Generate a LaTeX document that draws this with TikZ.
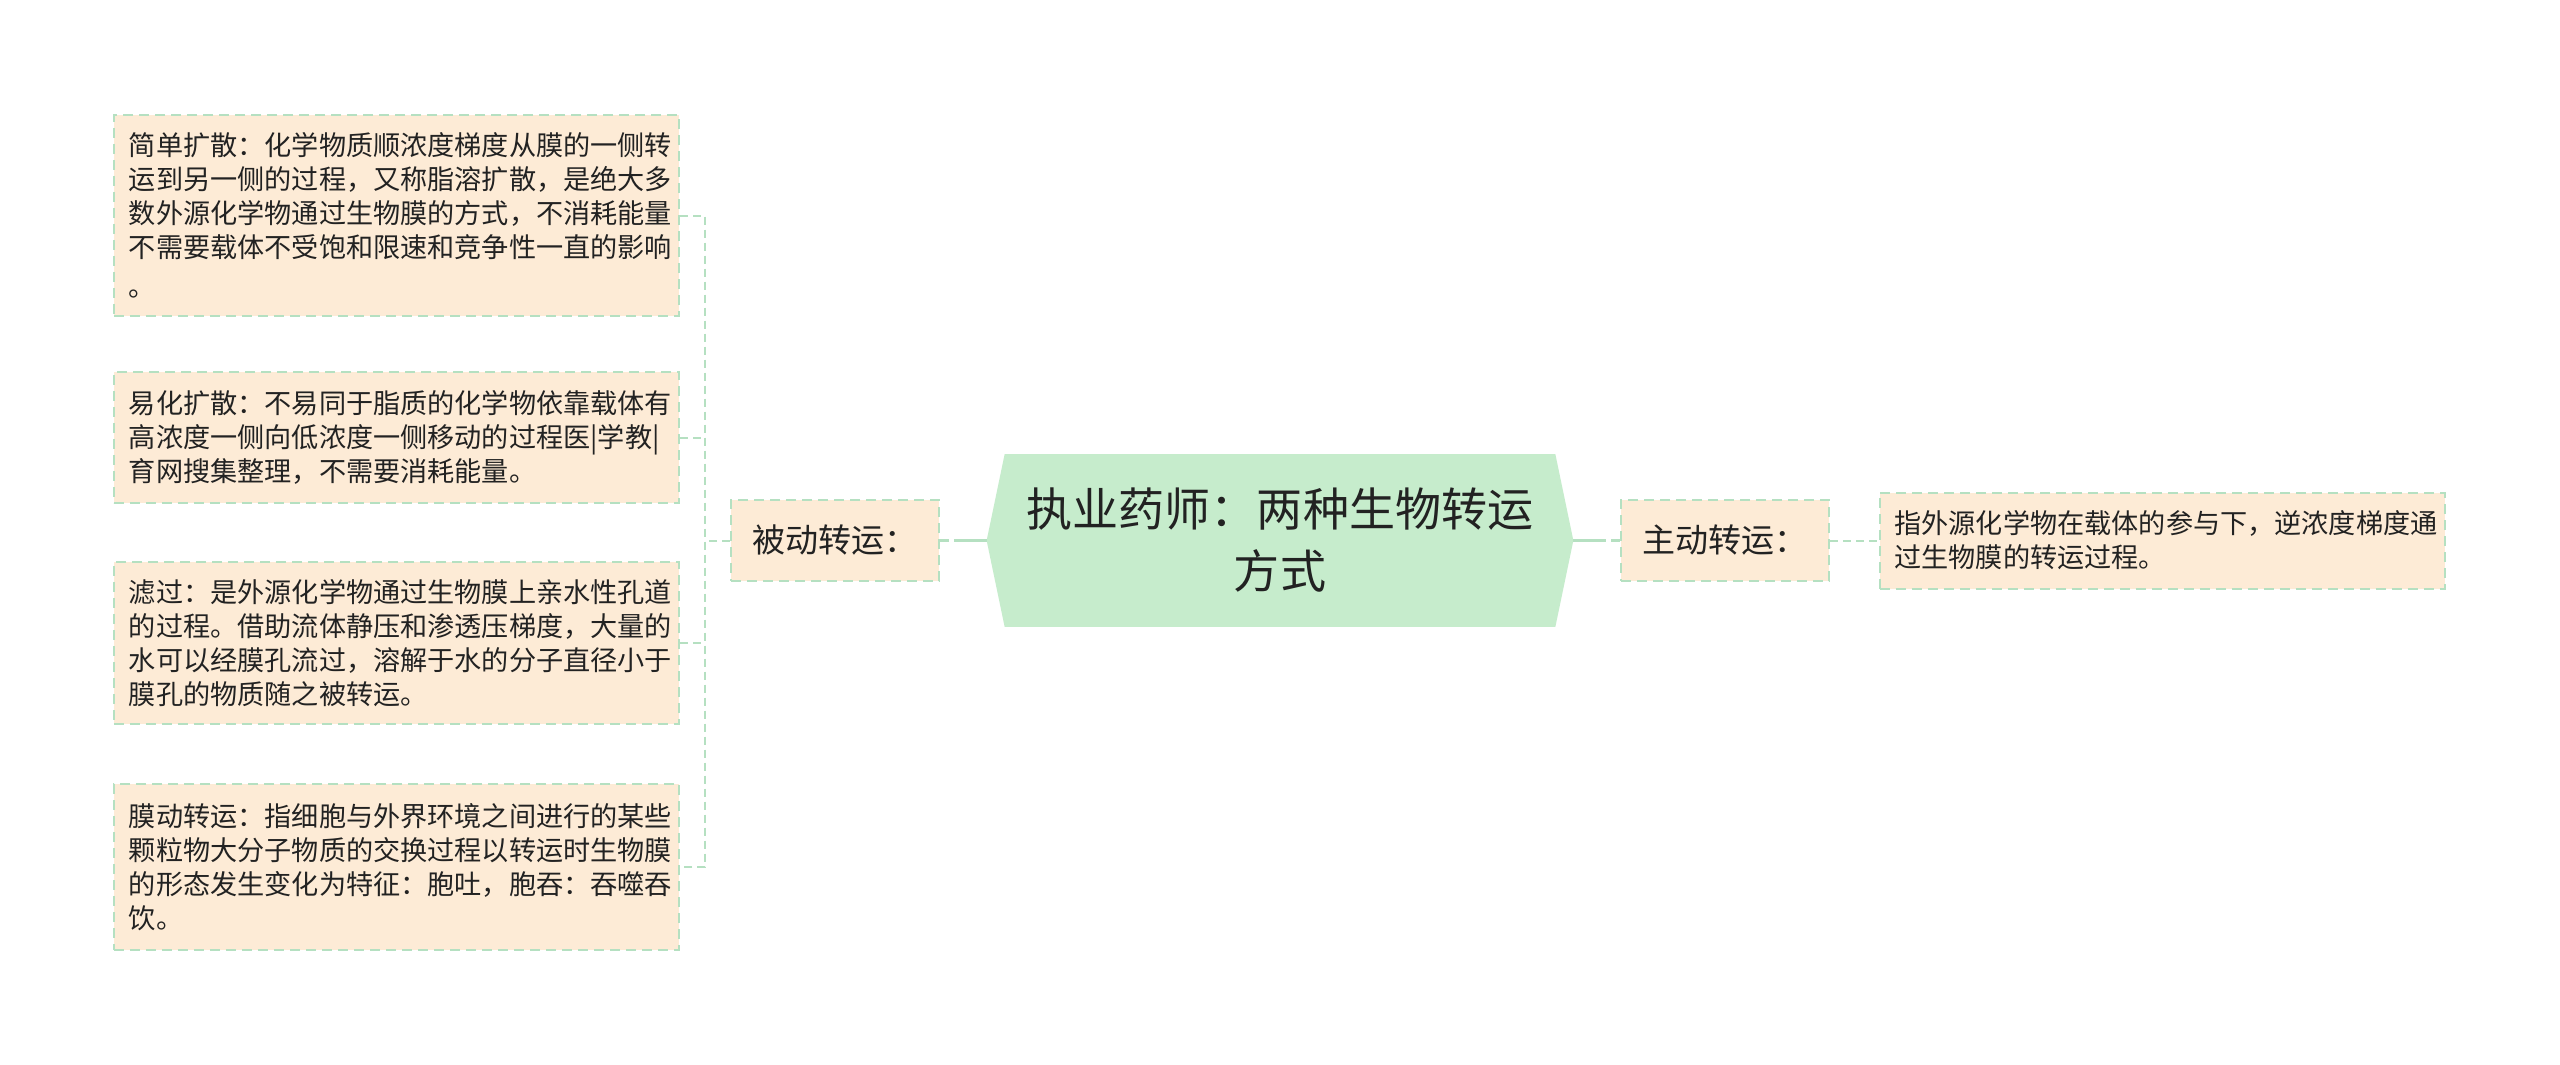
\documentclass[tikz,border=0pt]{standalone}
\usepackage{fontspec}
\setmainfont{Noto Sans CJK SC}
\usetikzlibrary{positioning,calc,backgrounds}
\definecolor{peach}{HTML}{FDEBD6}
\definecolor{mint}{HTML}{B5E0C1}
\definecolor{rootgreen}{HTML}{C6ECCC}
\definecolor{ink}{HTML}{222222}

\begin{document}
\begin{tikzpicture}[
    x=0.2mm, y=-0.2mm,
    leaf/.style={draw=mint, fill=peach, line width=0.4mm, dash pattern=on 2mm off 1.2mm, text=ink,
        inner xsep=3mm, inner ysep=0pt, text width=107mm, align=left, font=\fontsize{15.45pt}{19.3pt}\selectfont},
    topic/.style={draw=mint, fill=peach, line width=0.4mm, dash pattern=on 2mm off 1.2mm, text=ink,
        inner sep=0pt, minimum width=41.6mm, minimum height=16.2mm, font=\fontsize{18.8pt}{22pt}\selectfont},
    rootbox/.style={inner sep=0pt, minimum width=117.2mm, minimum height=34.4mm, text width=106mm,
        align=center, text=ink, font=\fontsize{26.2pt}{35.3pt}\selectfont},
    branch/.style={draw=mint, line width=0.4mm, dash pattern=on 1.6mm off 1mm},
    rootlink/.style={draw=mint, line width=0.6mm, dash pattern=on 6.6mm off 1mm}
]
\useasboundingbox (0,0) rectangle (2560,1065);

% central topic
\node[rootbox] (root) at (1280,540.5) {执业药师：两种生物转运\\方式};
\begin{scope}[on background layer]
\fill[white] (0,0) rectangle (2560,1065);
\fill[rootgreen] (root.west) -- ($(root.north west)+(18,0)$) -- ($(root.north east)+(-18,0)$) -- (root.east)
    -- ($(root.south east)+(-18,0)$) -- ($(root.south west)+(18,0)$) -- cycle;
\end{scope}

% main branches
\node[topic] (passive) at (835,540.5) {被动转运：};
\node[topic] (active) at (1725,540.5) {主动转运：};

% passive transport leaves
\node[leaf, minimum height=40.2mm] (simple) at (396.5,215.5) {简单扩散：化学物质顺浓度梯度从膜的一侧转\\运到另一侧的过程，又称脂溶扩散，是绝大多\\数外源化学物通过生物膜的方式，不消耗能量\\不需要载体不受饱和限速和竞争性一直的影响\\[1mm]。};
\node[leaf, minimum height=26.2mm] (facil) at (396.5,437.5) {易化扩散：不易同于脂质的化学物依靠载体有\\高浓度一侧向低浓度一侧移动的过程医|学教|\\育网搜集整理，不需要消耗能量。};
\node[leaf, minimum height=32.4mm] (filter) at (396.5,643) {滤过：是外源化学物通过生物膜上亲水性孔道\\的过程。借助流体静压和渗透压梯度，大量的\\水可以经膜孔流过，溶解于水的分子直径小于\\膜孔的物质随之被转运。};
\node[leaf, minimum height=33.2mm] (membr) at (396.5,867) {膜动转运：指细胞与外界环境之间进行的某些\\颗粒物大分子物质的交换过程以转运时生物膜\\的形态发生变化为特征：胞吐，胞吞：吞噬吞\\饮。};

% active transport leaf
\node[leaf, minimum height=19.2mm] (carrier) at (2162,540.5) {指外源化学物在载体的参与下，逆浓度梯度通\\过生物膜的转运过程。};

% connectors
\coordinate (trunk) at (705,540.5);
\draw[rootlink] (root.west) -- (passive.east);
\draw[rootlink] (root.east) -- (active.west);
\draw[branch] (passive.west) -- (trunk);
\draw[branch] (simple.east) -| (trunk) |- (membr.east);
\draw[branch] (facil.east) -- (facil.east -| trunk);
\draw[branch] (filter.east) -- (filter.east -| trunk);
\draw[branch] (active.east) -- (carrier.west);

\end{tikzpicture}
\end{document}
